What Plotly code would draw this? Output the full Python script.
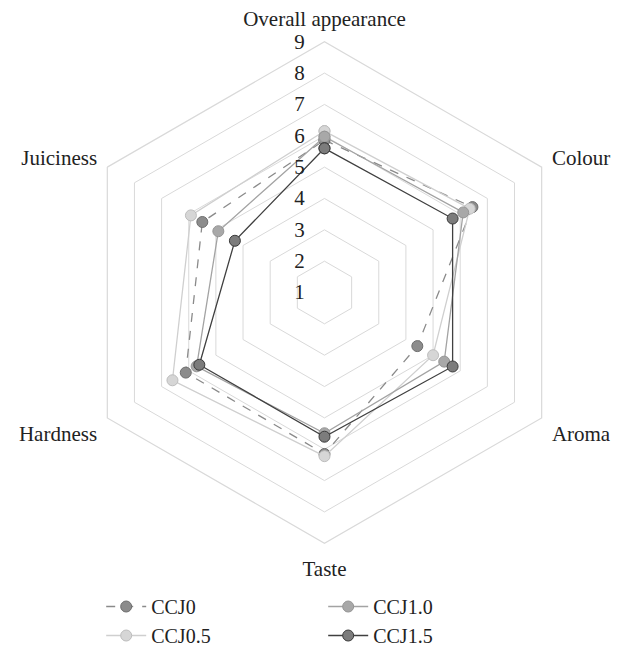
import plotly.graph_objects as go

categories = ["Overall appearance", "Colour", "Aroma", "Taste", "Hardness", "Juiciness"]
series_names = ["CCJ0", "CCJ0.5", "CCJ1.0", "CCJ1.5"]
ccj0 = [5.86, 6.45, 4.42, 6.15, 6.11, 5.50]
ccj05 = [6.15, 6.35, 5.00, 6.22, 6.60, 5.92]
ccj10 = [5.97, 6.11, 5.41, 5.49, 5.71, 4.91]
ccj15 = [5.60, 5.72, 5.72, 5.60, 5.61, 4.30]
radial_ticks = [1, 2, 3, 4, 5, 6, 7, 8, 9]

values = [ccj0, ccj05, ccj10, ccj15]
line_colors = ["#8a8a8a", "#cfcfcf", "#a3a3a3", "#404040"]
marker_fill = ["#8c8c8c", "#d6d6d6", "#a8a8a8", "#7c7c7c"]
marker_edge = ["#6e6e6e", "#bdbdbd", "#959595", "#3a3a3a"]
dashes = ["dash", "solid", "solid", "solid"]
ranks = [1, 3, 2, 4]

FONT = "Liberation Serif"
FS = 21

fig = go.Figure()
for name, v, lc, mf, me, d, rk in zip(series_names, values, line_colors, marker_fill, marker_edge, dashes, ranks):
    fig.add_trace(go.Scatterpolar(
        r=v + v[:1], theta=categories + categories[:1], name=name,
        mode="lines+markers",
        line=dict(color=lc, width=1.3, dash=d),
        marker=dict(size=11, color=mf, line=dict(color=me, width=1)),
        legendrank=rk,
    ))

fig.update_layout(
    width=617, height=648,
    margin=dict(l=0, r=0, t=0, b=0, autoexpand=False),
    paper_bgcolor="white", plot_bgcolor="white",
    font=dict(family=FONT, size=FS, color="#222"),
    polar=dict(
        domain=dict(x=[0.1194, 0.9324], y=[0.1616, 0.9356]),
        gridshape="linear",
        bgcolor="white",
        radialaxis=dict(range=[1, 9], tickvals=radial_ticks, angle=90, tickangle=90,
                        showline=False, ticks="outside", ticklen=12, tickcolor="rgba(0,0,0,0)",
                        gridcolor="#d9d9d9", gridwidth=1.2,
                        tickfont=dict(family=FONT, size=FS, color="#222"), side="counterclockwise"),
        angularaxis=dict(direction="clockwise", rotation=90, showgrid=False,
                         showline=True, linecolor="#d9d9d9", linewidth=1.2,
                         ticks="outside", ticklen=7, tickcolor="rgba(0,0,0,0)",
                         tickfont=dict(family=FONT, size=FS, color="#222")),
    ),
    legend=dict(orientation="h", x=0.164, y=0.0941, xanchor="left", yanchor="top",
                entrywidth=167, entrywidthmode="pixels", traceorder="normal",
                itemwidth=40,
                font=dict(family=FONT, size=20, color="#222")),
)

fig.write_html("out.html", config={"displayModeBar": False},
               post_script="document.body.style.margin='0px';")
